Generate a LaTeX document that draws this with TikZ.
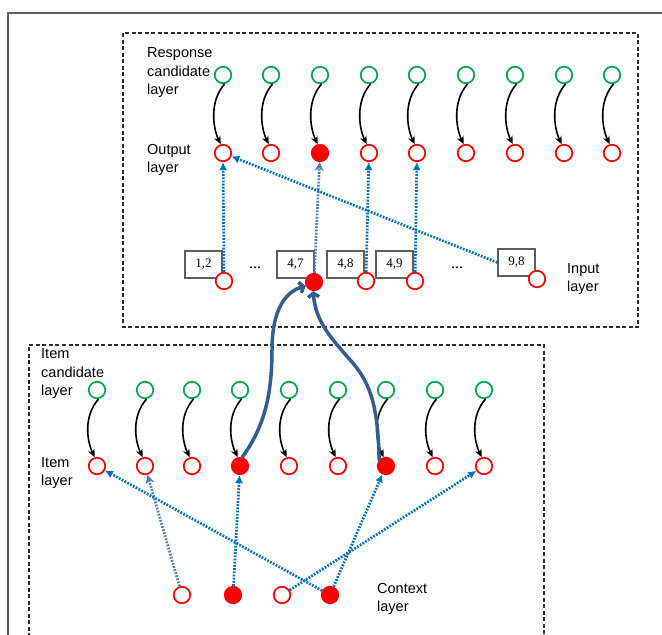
\documentclass[tikz,border=0pt]{standalone}
\usepackage{fontspec}
\setmainfont{Liberation Sans}
\newfontfamily\serifnum{Liberation Serif}
\usetikzlibrary{arrows.meta}
\definecolor{cgreen}{RGB}{0,166,80}
\definecolor{cred}{RGB}{255,0,0}
\definecolor{cblue}{RGB}{0,112,192}
\definecolor{clight}{RGB}{85,125,185}
\definecolor{cdark}{RGB}{52,92,145}
\definecolor{cframe}{RGB}{95,95,95}
\definecolor{cdash}{RGB}{45,45,45}
\begin{document}
\begin{tikzpicture}[x=1pt,y=-1pt,
  gnode/.style={circle,draw=cgreen,line width=1.7pt,minimum size=16.5pt,inner sep=0pt,fill=white},
  rnode/.style={circle,draw=cred,line width=1.7pt,minimum size=16.5pt,inner sep=0pt,fill=white},
  rfill/.style={rnode,fill=cred},
  lab/.style={anchor=west,align=left,inner sep=0pt,font=\fontsize{14.5}{18.5}\selectfont},
  numbox/.style={draw=cframe,line width=1.4pt,minimum width=37pt,minimum height=27pt,inner sep=0pt,fill=white,font=\serifnum\fontsize{13}{15}\selectfont},
  blk/.style={draw=black,line width=1.6pt,-{Stealth[length=8pt,width=7pt]}},
  dotb/.style={draw=cblue,line width=2.7pt,dash pattern=on 1.8pt off 1.4pt,-{Latex[length=8pt,width=8pt]}},
  dotl/.style={draw=clight,line width=2.7pt,dash pattern=on 1.8pt off 1.4pt,-{Stealth[length=9pt,width=9pt,inset=3pt]}},
  thick blue/.style={draw=cdark,line width=3.5pt,line cap=round,-{Straight Barb[length=4pt,width=11pt]}},
  frame/.style={draw=cdash,line width=1.5pt,dash pattern=on 4pt off 2.5pt}
]
\useasboundingbox (0,0) rectangle (662,635);
\fill[white] (0,0) rectangle (662,635);
% outer frame
\draw[cframe,line width=1.3pt] (8,640) -- (8,13) -- (670,13);
% dashed boxes
\draw[frame] (123,33) rectangle (638,327);
\draw[frame] (29,650) -- (29,345) -- (544,345) -- (544,650);

% upper layers
\foreach \x [count=\i] in {223,271,320,369,417,466,515,564,612} {
  \node[gnode] (g\i) at (\x,75) {};
  \ifnum\i=3 \node[rfill] (o\i) at (\x,153) {};
  \else \node[rnode] (o\i) at (\x,153) {}; \fi
  \draw[blk] (g\i.-80) .. controls +(-15,17) and +(-8,-17) .. (o\i.105);
}
% lower layers
\foreach \x [count=\i] in {97,145,192,240,289,338,386,435,484} {
  \node[gnode] (ig\i) at (\x,390) {};
  \ifnum\i=4 \node[rfill] (it\i) at (\x,466) {};
  \else\ifnum\i=7 \node[rfill] (it\i) at (\x,466) {};
  \else \node[rnode] (it\i) at (\x,466) {}; \fi\fi
  \draw[blk] (ig\i.-80) .. controls +(-15,17) and +(-8,-17) .. (it\i.105);
}

% labels
\node[lab] (lresp) at (147,73) {Response\\candidate\\layer};
\node[lab] (lout) at (147,160) {Output\\layer};
\node[lab] (linp) at (567,279) {Input\\layer};
\node[lab] (litc) at (41,374) {Item\\candidate\\layer};
\node[lab] (lit) at (41,473) {Item\\layer};
\node[lab] (lctx) at (377,599) {Context\\layer};

% input layer
\node[numbox] (b12) at (203.5,264.5) {1,2};
\node[numbox] (b47) at (295.5,264.5) {4,7};
\node[numbox] (b48) at (345.5,264.5) {4,8};
\node[numbox] (b49) at (394.5,264.5) {4,9};
\node[numbox] (b98) at (516.5,262.5) {9,8};
\node[anchor=base,font=\serifnum\fontsize{16}{18}\selectfont] (dd1) at (255,268) {...};
\node[anchor=base,font=\serifnum\fontsize{16}{18}\selectfont] (dd2) at (457,268) {...};
\node[rnode] (i12) at (224,281) {};
\node[rfill] (i47) at (314,282) {};
\node[rnode] (i48) at (366,281) {};
\node[rnode] (i49) at (415,281) {};
\node[rnode] (i98) at (537,279) {};

% upper blue arrows
\draw[dotb] (i12) -- (o1);
\draw[dotl] (i47) -- (o3);
\draw[dotb] (i48) -- (o4);
\draw[dotb] (i49) -- (o5);
\draw[dotb] (b98.west) -- (o1);

% context layer
\node[rnode] (c1) at (182,595) {};
\node[rfill] (c2) at (233,595) {};
\node[rnode] (c3) at (282,595) {};
\node[rfill] (c4) at (330,595) {};

\draw[dotl] (c1) -- (it2);
\draw[dotb] (c2) -- (it4);
\draw[dotb] (c4) -- (it1);
\draw[dotb] (c4) -- (it7);
\draw[dotb] (c3) -- (it9);

% thick curves
\draw[thick blue] (it4.76) .. controls (262,430) and (272,400) .. (272,350)
   .. controls (272,310) and (285,292) .. (i47.205);
\draw[thick blue] (it7.139) .. controls (378,410) and (372,385) .. (352,362)
   .. controls (330,337) and (316,322) .. (i47.264);
\end{tikzpicture}
\end{document}
